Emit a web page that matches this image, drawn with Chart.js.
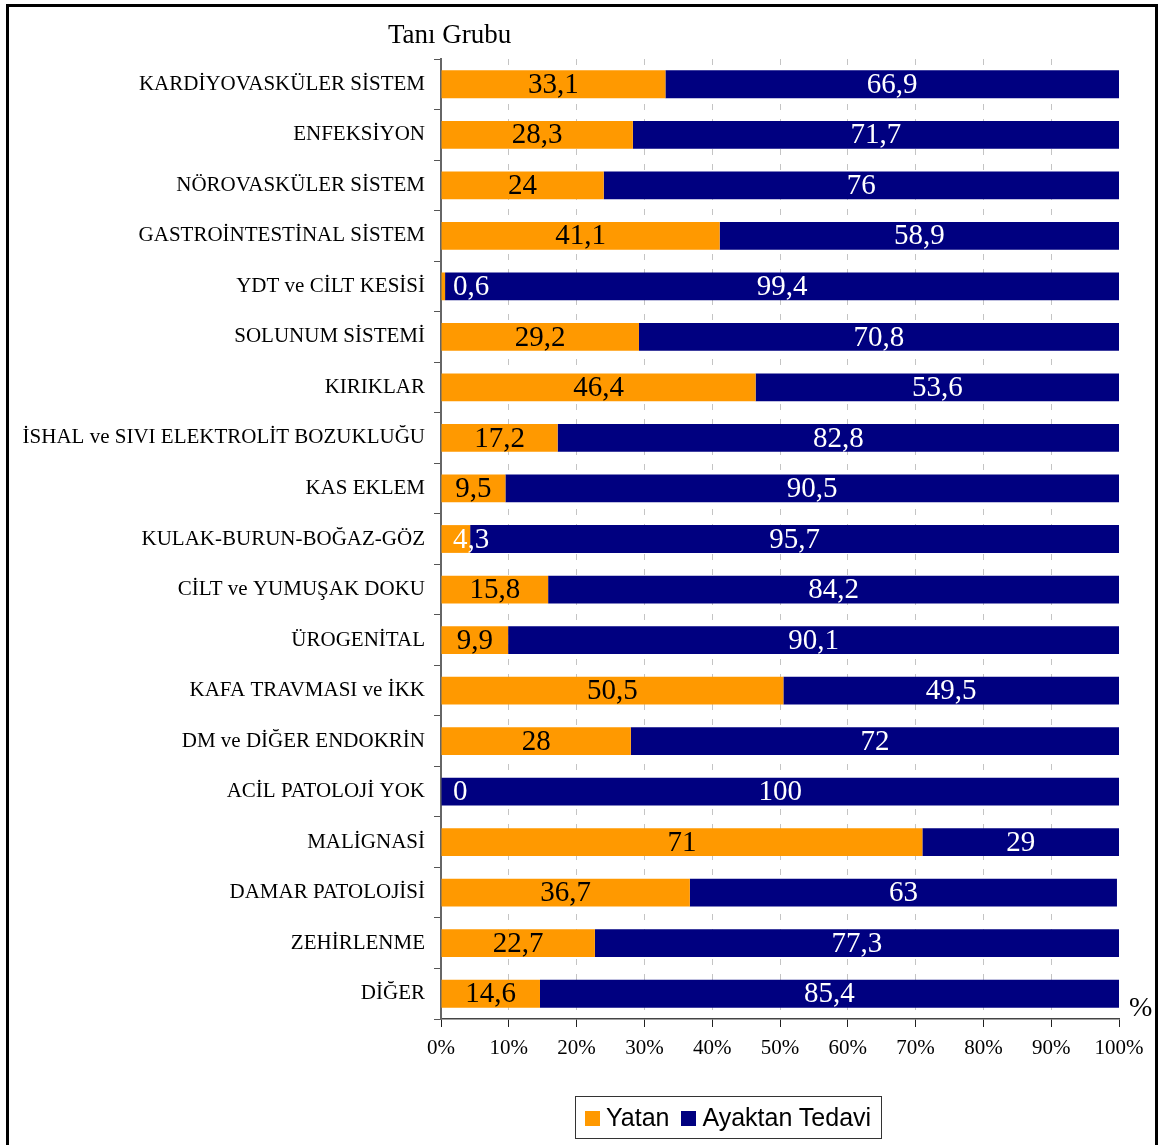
<!DOCTYPE html>
<html>
<head>
<meta charset="utf-8">
<script src="https://cdn.jsdelivr.net/npm/chart.js@4/dist/chart.umd.min.js"></script>
<style>
    body { margin: 0; background: #fff; }
    #wrap { position: relative; width: 1159px; height: 1145px; overflow: hidden; }
    #frame { position: absolute; left: 6px; top: 4px; width: 1152px; height: 1160px; border: 3px solid #000; box-sizing: border-box; }
    #legend {
        position: absolute; left: 575px; top: 1096px; height: 43px;
        border: 1.5px solid #333; box-sizing: border-box;
        display: flex; align-items: center; padding: 0 10px 0 9px;
        font-family: "Liberation Sans", Arial, sans-serif; font-size: 25px; color: #000;
    }
    .item { display: flex; align-items: center; margin-right: 12px; }
    .item:last-child { margin-right: 0; }
    .box { width: 15px; height: 15px; margin-right: 6px; margin-top: 2px; }
</style>
</head>
<body>
<div id="wrap">
    <canvas id="chart" width="1159" height="1145"></canvas>
    <div id="frame"></div>
    <div id="legend"></div>
</div>
<script>
// Données
const categories = [
    'KARDİYOVASKÜLER SİSTEM', 'ENFEKSİYON', 'NÖROVASKÜLER SİSTEM', 'GASTROİNTESTİNAL SİSTEM',
    'YDT ve CİLT KESİSİ', 'SOLUNUM SİSTEMİ', 'KIRIKLAR', 'İSHAL ve SIVI ELEKTROLİT BOZUKLUĞU',
    'KAS EKLEM', 'KULAK-BURUN-BOĞAZ-GÖZ', 'CİLT ve YUMUŞAK DOKU', 'ÜROGENİTAL',
    'KAFA TRAVMASI ve İKK', 'DM ve DİĞER ENDOKRİN', 'ACİL PATOLOJİ YOK', 'MALİGNASİ',
    'DAMAR PATOLOJİSİ', 'ZEHİRLENME', 'DİĞER'
];
const yatan = [33.1, 28.3, 24, 41.1, 0.6, 29.2, 46.4, 17.2, 9.5, 4.3, 15.8, 9.9, 50.5, 28, 0, 71, 36.7, 22.7, 14.6];
const ayaktan = [66.9, 71.7, 76, 58.9, 99.4, 70.8, 53.6, 82.8, 90.5, 95.7, 84.2, 90.1, 49.5, 72, 100, 29, 63, 77.3, 85.4];
const seriesNames = ['Yatan', 'Ayaktan Tedavi'];
const xTicks = [0, 10, 20, 30, 40, 50, 60, 70, 80, 90, 100];

const serif = '"Liberation Serif", "Times New Roman", serif';

// Étiquettes de valeurs + titre + symbole %
const labelsPlugin = {
    id: 'labelsPlugin',
    afterDatasetsDraw(chart) {
        const ctx = chart.ctx;
        const area = chart.chartArea;
        ctx.save();
        ctx.font = '29px ' + serif;
        ctx.textAlign = 'center';
        ctx.textBaseline = 'middle';
        chart.data.datasets.forEach((ds, di) => {
            const meta = chart.getDatasetMeta(di);
            meta.data.forEach((bar, i) => {
                const v = ds.data[i];
                const txt = String(v).replace('.', ',');
                const w = ctx.measureText(txt).width;
                let x = (bar.base + bar.x) / 2;
                if (x - w / 2 < area.left + 12) x = area.left + 12 + w / 2;
                ctx.fillStyle = (di === 0 && v >= 5) ? '#000' : '#fff';
                ctx.fillText(txt, x, bar.y + 1);
            });
        });
        ctx.fillStyle = '#000';
        ctx.textAlign = 'left';
        ctx.textBaseline = 'alphabetic';
        ctx.font = '27px ' + serif;
        ctx.fillText('Tanı Grubu', area.left - 53, 43);
        ctx.font = '28px ' + serif;
        ctx.fillText('%', area.right + 10, 1016);
        ctx.restore();
    }
};

const chart = new Chart(document.getElementById('chart'), {
    type: 'bar',
    data: {
        labels: categories,
        datasets: [{
            label: seriesNames[0],
            data: yatan,
            backgroundColor: '#FF9900'
        }, {
            label: seriesNames[1],
            data: ayaktan,
            backgroundColor: '#000080'
        }]
    },
    options: {
        indexAxis: 'y',
        responsive: false,
        animation: false,
        barPercentage: 0.55,
        categoryPercentage: 1.0,
        layout: {
            padding: { left: 0, top: 59, right: 40, bottom: 0 }
        },
        plugins: {
            legend: { display: false },
            tooltip: { enabled: false }
        },
        scales: {
            x: {
                stacked: true,
                min: 0,
                max: 100,
                afterBuildTicks: (scale) => {
                    scale.ticks = xTicks.map(v => ({ value: v }));
                },
                afterFit: (scale) => { scale.height = 126; },
                ticks: {
                    callback: (v) => v + '%',
                    color: '#000',
                    padding: 9,
                    maxRotation: 0,
                    font: { family: serif, size: 21 }
                },
                grid: {
                    color: (c) => c.tick && c.tick.value === 100 ? 'rgba(0,0,0,0)' : '#c4c4c4',
                    tickColor: '#222',
                    tickLength: 8,
                    tickBorderDash: []
                },
                border: {
                    display: true,
                    color: '#444',
                    width: 1.5,
                    dash: [6, 9]
                }
            },
            y: {
                stacked: true,
                afterFit: (scale) => { scale.width = 441; },
                ticks: {
                    color: '#000',
                    padding: 9,
                    font: { family: serif, size: 21 }
                },
                grid: {
                    drawOnChartArea: false,
                    tickColor: '#555',
                    tickLength: 7,
                    offset: true
                },
                border: {
                    display: true,
                    color: '#666',
                    width: 2
                }
            }
        }
    },
    plugins: [labelsPlugin]
});

// Légende HTML
const legend = document.getElementById('legend');
chart.data.datasets.forEach(ds => {
    const item = document.createElement('div');
    item.className = 'item';
    const box = document.createElement('span');
    box.className = 'box';
    box.style.background = ds.backgroundColor;
    const txt = document.createElement('span');
    txt.textContent = ds.label;
    item.appendChild(box);
    item.appendChild(txt);
    legend.appendChild(item);
});
</script>
</body>
</html>
